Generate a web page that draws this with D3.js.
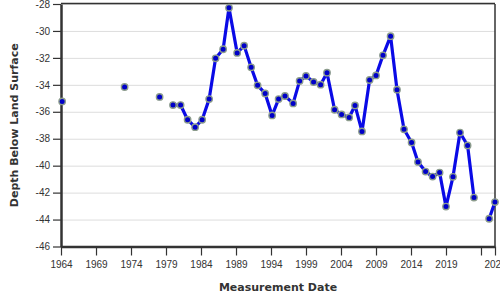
<!DOCTYPE html>
<html>
<head>
<meta charset="utf-8">
<script src="https://cdn.jsdelivr.net/npm/d3@7"></script>
<style>
  body { margin: 0; background: #fff; }
  svg { display: block; font-family: "DejaVu Sans", sans-serif; }
  .grid line { stroke: #ddd; stroke-width: 1; }
  .grid .domain { display: none; }
  .axis .domain { stroke: #333; stroke-width: 2.5; }
  .axis line { stroke: #333; stroke-width: 1.2; }
  .axis text { fill: #333; font-size: 10px; }
  .title { fill: #333; font-size: 11px; font-weight: bold; }
</style>
</head>
<body>
<svg width="500" height="300"></svg>
<script>
var dates = ["1964-03", "1973-02", "1978-02", "1980-01", "1981-02", "1982-02", "1983-03",
  "1984-03", "1985-03", "1986-02", "1987-03", "1988-01", "1989-03", "1990-03", "1991-03",
  "1992-02", "1993-03", "1994-03", "1995-02", "1996-01", "1997-03", "1998-02", "1999-01",
  "2000-02", "2001-02", "2002-01", "2003-02", "2004-02", "2005-03", "2006-01", "2007-01",
  "2008-02", "2009-01", "2010-01", "2011-02", "2012-01", "2013-01", "2014-02", "2015-01",
  "2016-02", "2017-02", "2018-02", "2019-01", "2020-01", "2021-01", "2022-02", "2023-01",
  "2025-03", "2026-01"];
var depths = [-35.23, -34.16, -34.9, -35.5, -35.5, -36.59, -37.14,
  -36.59, -35.06, -32.03, -31.36, -28.28, -31.63, -31.09, -32.7,
  -34.04, -34.64, -36.27, -35.06, -34.83, -35.38, -33.71, -33.34,
  -33.79, -33.99, -33.1, -35.85, -36.2, -36.42, -35.53, -37.46,
  -33.64, -33.3, -31.81, -30.39, -34.36, -37.3, -38.28, -39.72,
  -40.44, -40.81, -40.51, -43.04, -40.83, -37.54, -38.5, -42.37,
  -43.94, -42.7];
var xTickYears = [1964, 1969, 1974, 1979, 1984, 1989, 1994, 1999, 2004, 2009, 2014, 2019, 2024, 2026];
var hiddenTickYears = [2024];
var yTicks = [-28, -30, -32, -34, -36, -38, -40, -42, -44, -46];

var parse = d3.timeParse("%Y-%m");
var points = dates.map(function(d, i){ return { date: parse(d), depth: depths[i] }; });

var margin = { top: 4, right: 5, bottom: 53.5, left: 61 };
var width = 500 - margin.left - margin.right;
var height = 300 - margin.top - margin.bottom;

var svg = d3.select('svg');
var g = svg.append('g').attr('transform', 'translate(' + margin.left + ',' + margin.top + ')');

var x = d3.scaleTime()
  .domain([new Date(1964, 0, 1), new Date(2026, 0, 1)])
  .range([0, width]);
var y = d3.scaleLinear().domain([-46, -28]).range([height, 0]);

// gridlines
g.append('g').attr('class', 'grid')
  .call(d3.axisLeft(y).tickValues(yTicks).tickSize(-width).tickFormat(''));

// frame top/right
g.append('line').attr('x1', 0).attr('x2', width).attr('y1', -0.5).attr('y2', -0.5)
  .attr('stroke', '#333').attr('stroke-width', 1.5);
g.append('line').attr('x1', width).attr('x2', width).attr('y1', 0).attr('y2', height)
  .attr('stroke', '#333').attr('stroke-width', 1.5);

g.append('g').attr('class', 'axis')
  .call(d3.axisLeft(y).tickValues(yTicks)
    .tickFormat(function(d){ return String(d); })
    .tickSize(8).tickPadding(3).tickSizeOuter(0));

g.append('g').attr('class', 'axis')
  .attr('transform', 'translate(0,' + height + ')')
  .call(d3.axisBottom(x)
    .tickValues(xTickYears.map(function(yr){ return new Date(yr, 0, 1); }))
    .tickFormat(function(d){
      var yr = d.getFullYear();
      return hiddenTickYears.indexOf(yr) >= 0 ? '' : String(yr);
    })
    .tickSize(9).tickPadding(5).tickSizeOuter(0));

// split line where a year is missing
var segments = [];
var current = [];
points.forEach(function(p, i){
  if (i > 0 && (p.date - points[i - 1].date) > 1.6 * 365 * 864e5) {
    segments.push(current);
    current = [];
  }
  current.push(p);
});
segments.push(current);

var line = d3.line()
  .x(function(d){ return x(d.date); })
  .y(function(d){ return y(d.depth); });

g.selectAll('path.series')
  .data(segments.filter(function(s){ return s.length > 1; }))
  .enter().append('path')
  .attr('class', 'series')
  .attr('d', line)
  .attr('fill', 'none')
  .attr('stroke', '#0a0ae6')
  .attr('stroke-width', 3.2)
  .attr('stroke-linejoin', 'round');

g.selectAll('circle')
  .data(points)
  .enter().append('circle')
  .attr('cx', function(d){ return x(d.date); })
  .attr('cy', function(d){ return y(d.depth); })
  .attr('r', 3.2)
  .attr('fill', '#0000c8')
  .attr('stroke', '#8c9c8c')
  .attr('stroke-width', 1.4);

svg.append('text').attr('class', 'title')
  .attr('text-anchor', 'middle')
  .attr('x', margin.left + width / 2)
  .attr('y', 291)
  .text('Measurement Date');

svg.append('text').attr('class', 'title')
  .attr('text-anchor', 'middle')
  .attr('transform', 'translate(17.5,' + (margin.top + height / 2) + ') rotate(-90)')
  .text('Depth Below Land Surface');
</script>
</body>
</html>
